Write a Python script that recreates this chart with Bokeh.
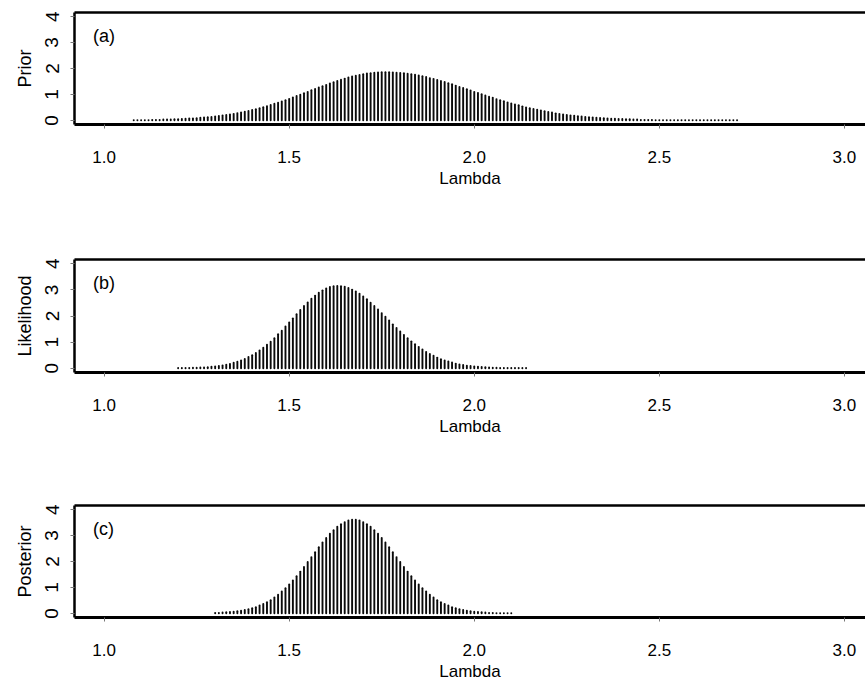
import numpy as np
from bokeh.plotting import figure
from bokeh.layouts import column
from bokeh.models import Range1d, FixedTicker, LinearAxis, NumeralTickFormatter, Label
from bokeh.embed import file_html
from bokeh.resources import INLINE

# ---------------- data ----------------
step = 0.01

prior_start = 1.08
prior = [
    0.01, 0.01, 0.01, 0.01, 0.01, 0.02, 0.02, 0.02, 0.03, 0.03,
    0.03, 0.04, 0.04, 0.05, 0.06, 0.07, 0.07, 0.08, 0.10, 0.11,
    0.12, 0.13, 0.15, 0.17, 0.19, 0.21, 0.23, 0.25, 0.28, 0.30,
    0.33, 0.36, 0.40, 0.43, 0.47, 0.51, 0.55, 0.59, 0.64, 0.68,
    0.73, 0.78, 0.83, 0.88, 0.94, 0.99, 1.05, 1.10, 1.16, 1.21,
    1.27, 1.32, 1.37, 1.42, 1.47, 1.52, 1.57, 1.61, 1.65, 1.69,
    1.72, 1.75, 1.78, 1.81, 1.82, 1.84, 1.85, 1.86, 1.86,
    1.86, 1.85, 1.84, 1.83, 1.82, 1.80, 1.78, 1.76, 1.73, 1.70,
    1.67, 1.63, 1.60, 1.56, 1.52, 1.48, 1.43, 1.39, 1.34, 1.29,
    1.25, 1.20, 1.15, 1.10, 1.06, 1.01, 0.96, 0.91, 0.87, 0.82,
    0.78, 0.74, 0.69, 0.65, 0.61, 0.58, 0.54, 0.50, 0.47, 0.44,
    0.41, 0.38, 0.35, 0.32, 0.30, 0.27, 0.25, 0.23, 0.21, 0.19,
    0.18, 0.16, 0.15, 0.13, 0.12, 0.11, 0.10, 0.09, 0.08, 0.07,
    0.06, 0.06, 0.05, 0.05, 0.04, 0.04, 0.03, 0.03, 0.02, 0.02,
    0.02, 0.02, 0.01, 0.01, 0.01, 0.01, 0.01, 0.01, 0.01, 0.01,
    0.01, 0.01, 0.01, 0.01, 0.01, 0.01, 0.01, 0.01, 0.01, 0.01,
    0.01, 0.01, 0.01, 0.01, 0.01,
]

likelihood_start = 1.20
likelihood = [
    0.01, 0.01, 0.01, 0.01, 0.02, 0.02, 0.03, 0.03, 0.04, 0.06,
    0.07, 0.09, 0.11, 0.14, 0.17, 0.21, 0.25, 0.30, 0.36, 0.43,
    0.50, 0.59, 0.68, 0.79, 0.90, 1.02, 1.15, 1.30, 1.44, 1.60,
    1.75, 1.91, 2.07, 2.23, 2.38, 2.52, 2.66, 2.78, 2.89, 2.98,
    3.05, 3.11, 3.14, 3.15,
    3.14, 3.12, 3.07, 3.01, 2.94, 2.85, 2.75, 2.64, 2.51, 2.38,
    2.25, 2.11, 1.97, 1.83, 1.68, 1.54, 1.41, 1.28, 1.15, 1.03,
    0.92, 0.82, 0.72, 0.63, 0.55, 0.48, 0.41, 0.35, 0.30, 0.26,
    0.22, 0.18, 0.15, 0.13, 0.10, 0.09, 0.07, 0.06, 0.05, 0.04,
    0.03, 0.02, 0.02, 0.01, 0.01, 0.01, 0.01, 0.01, 0.01, 0.01,
    0.01,
]

posterior_start = 1.30
posterior = [
    0.02, 0.02, 0.03, 0.04, 0.05, 0.06, 0.08, 0.10, 0.13, 0.16,
    0.20, 0.24, 0.30, 0.36, 0.43, 0.51, 0.61, 0.72, 0.84, 0.97,
    1.11, 1.27, 1.43, 1.61, 1.79, 1.98, 2.17, 2.36, 2.55, 2.73,
    2.91, 3.07, 3.21, 3.34, 3.44, 3.52, 3.58, 3.61,
    3.61, 3.58, 3.52, 3.44, 3.34, 3.21, 3.07, 2.91, 2.73, 2.55,
    2.36, 2.17, 1.98, 1.79, 1.61, 1.43, 1.27, 1.11, 0.97, 0.84,
    0.72, 0.61, 0.51, 0.43, 0.36, 0.30, 0.24, 0.20, 0.16, 0.13,
    0.10, 0.08, 0.06, 0.05, 0.04, 0.03, 0.02, 0.02, 0.01, 0.01,
    0.01, 0.01, 0.01,
]

x_ticks = [1.0, 1.5, 2.0, 2.5, 3.0]
y_ticks = [0, 1, 2, 3, 4]
panel_tags = ["(a)", "(b)", "(c)"]
y_titles = ["Prior", "Likelihood", "Posterior"]
x_title = "Lambda"

FONT = "Liberation Sans"

X_MIN, X_MAX = 0.92, 3.057
Y_MIN, Y_MAX = -0.16, 4.16
TAG_X, TAG_Y = 0.97, 3.27


def panel(start, vals, ytitle, tag, height, border_bottom):
    lam = np.round(start + step * np.arange(len(vals)), 2)
    p = figure(width=865, height=height, output_backend="svg", toolbar_location=None,
               x_range=Range1d(X_MIN, X_MAX), y_range=Range1d(Y_MIN, Y_MAX),
               min_border_left=74, min_border_right=0, min_border_top=12,
               min_border_bottom=border_bottom, x_axis_location=None, y_axis_location=None)
    p.outline_line_color = None
    p.grid.visible = False
    p.background_fill_color = "white"
    p.border_fill_color = "white"

    p.segment(x0=lam, y0=np.zeros(len(vals)), x1=lam, y1=vals,
              line_color="#0a0a0a", line_width=1.9, line_cap="round")

    xa = LinearAxis(ticker=FixedTicker(ticks=x_ticks), formatter=NumeralTickFormatter(format="0.0"),
                    axis_label=x_title)
    xa.axis_line_width = 3
    xa.axis_line_color = "black"
    xa.major_tick_out = 4
    xa.major_tick_in = 0
    xa.major_tick_line_color = "#777777"
    xa.minor_tick_line_color = None
    xa.major_label_standoff = 22
    xa.major_label_text_font = FONT
    xa.major_label_text_font_size = "17px"
    xa.major_label_text_color = "black"
    xa.axis_label_text_font = FONT
    xa.axis_label_text_font_size = "17px"
    xa.axis_label_text_font_style = "normal"
    xa.axis_label_text_color = "black"
    xa.axis_label_standoff = 3
    p.add_layout(xa, "below")

    ya = LinearAxis(ticker=FixedTicker(ticks=y_ticks), axis_label=ytitle)
    ya.axis_line_width = 2.5
    ya.axis_line_color = "black"
    ya.major_tick_out = 4
    ya.major_tick_in = 0
    ya.major_tick_line_color = "#777777"
    ya.minor_tick_line_color = None
    ya.major_label_orientation = "parallel"
    ya.major_label_standoff = 12
    ya.major_label_text_font = FONT
    ya.major_label_text_font_size = "19px"
    ya.major_label_text_color = "black"
    ya.axis_label_text_font = FONT
    ya.axis_label_text_font_size = "18px"
    ya.axis_label_text_font_style = "normal"
    ya.axis_label_text_color = "black"
    ya.axis_label_standoff = 8
    p.add_layout(ya, "left")

    ta = LinearAxis(ticker=FixedTicker(ticks=[]))
    ta.axis_line_width = 2.5
    ta.axis_line_color = "black"
    ta.major_tick_out = 0
    ta.major_tick_in = 0
    ta.minor_tick_line_color = None
    p.add_layout(ta, "above")

    p.add_layout(Label(x=TAG_X, y=TAG_Y, text=tag, text_font=FONT, text_font_size="18px",
                       text_color="black", text_baseline="middle", text_align="left"))
    return p


pa = panel(prior_start, prior, y_titles[0], panel_tags[0], 247, 123)
pb = panel(likelihood_start, likelihood, y_titles[1], panel_tags[1], 246, 121)
pc = panel(posterior_start, posterior, y_titles[2], panel_tags[2], 190, 66)

layout = column(pa, pb, pc, spacing=0)
open("out.html", "w").write(file_html(layout, INLINE))
